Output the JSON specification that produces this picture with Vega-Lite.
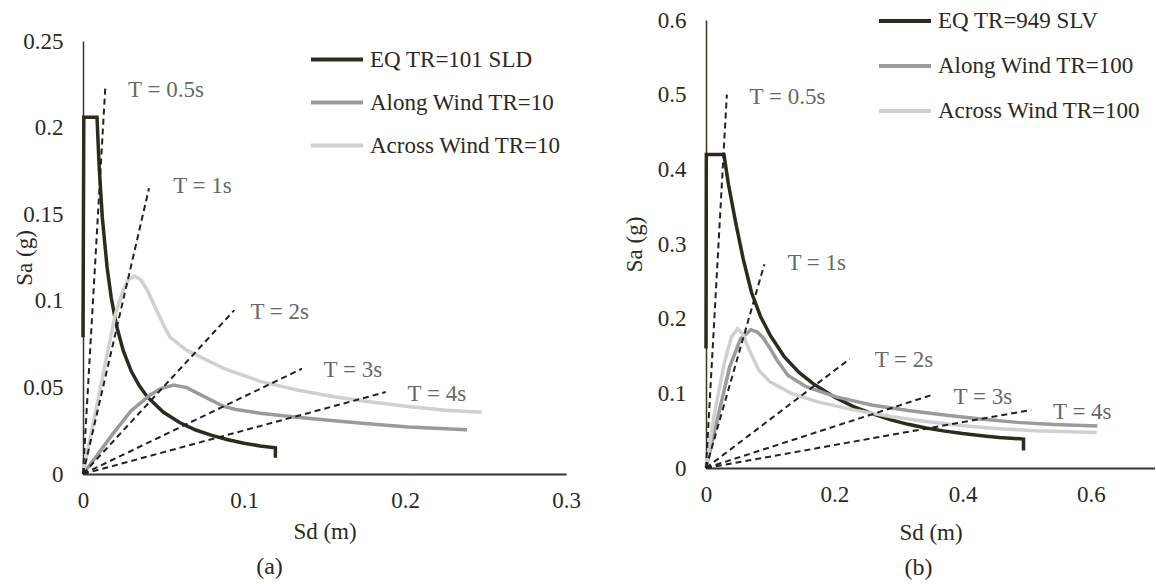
{
  "$schema": "https://vega.github.io/schema/vega-lite/v6.json",
  "padding": {"left": 13, "top": -7, "right": 0, "bottom": 0},
  "background": "white",
  "config": {
    "font": "Liberation Serif",
    "view": {"stroke": null},
    "style": {"guide-label": {"font": "Liberation Serif"}, "guide-title": {"font": "Liberation Serif"}},
    "axis": {
      "grid": false, "ticks": false, "labelFlush": false,
      "labelFont": "Liberation Serif", "labelFontSize": 23, "labelColor": "#2b2a22",
      "titleFont": "Liberation Serif", "titleFontSize": 23, "titleFontWeight": "normal", "titleColor": "#2b2a22",
      "domainColor": "#3a3528", "format": "~g"
    },
    "legend": {
      "orient": "none", "title": null, "symbolType": "stroke", "symbolSize": 2704, "symbolStrokeWidth": 4,
      "labelFont": "Liberation Serif", "labelFontSize": 23, "labelColor": "#2b2a22", "labelLimit": 400,
      "labelOffset": 5, "padding": 0
    },
    "title": {"font": "Liberation Serif", "fontWeight": "normal", "color": "#2b2a22"}
  },
  "datasets": {
    "curvesA": [
      {"s": "EQ TR=101 SLD", "Sd": 0, "Sa": 0.079},
      {"s": "EQ TR=101 SLD", "Sd": 0.0005, "Sa": 0.206},
      {"s": "EQ TR=101 SLD", "Sd": 0.0087, "Sa": 0.206},
      {"s": "EQ TR=101 SLD", "Sd": 0.010, "Sa": 0.178},
      {"s": "EQ TR=101 SLD", "Sd": 0.012, "Sa": 0.148},
      {"s": "EQ TR=101 SLD", "Sd": 0.015, "Sa": 0.119},
      {"s": "EQ TR=101 SLD", "Sd": 0.0175, "Sa": 0.102},
      {"s": "EQ TR=101 SLD", "Sd": 0.0207, "Sa": 0.086},
      {"s": "EQ TR=101 SLD", "Sd": 0.025, "Sa": 0.0712},
      {"s": "EQ TR=101 SLD", "Sd": 0.03, "Sa": 0.0593},
      {"s": "EQ TR=101 SLD", "Sd": 0.035, "Sa": 0.0509},
      {"s": "EQ TR=101 SLD", "Sd": 0.04, "Sa": 0.0445},
      {"s": "EQ TR=101 SLD", "Sd": 0.05, "Sa": 0.0356},
      {"s": "EQ TR=101 SLD", "Sd": 0.06, "Sa": 0.0297},
      {"s": "EQ TR=101 SLD", "Sd": 0.07, "Sa": 0.0254},
      {"s": "EQ TR=101 SLD", "Sd": 0.08, "Sa": 0.0223},
      {"s": "EQ TR=101 SLD", "Sd": 0.09, "Sa": 0.0198},
      {"s": "EQ TR=101 SLD", "Sd": 0.1, "Sa": 0.0178},
      {"s": "EQ TR=101 SLD", "Sd": 0.11, "Sa": 0.0162},
      {"s": "EQ TR=101 SLD", "Sd": 0.1195, "Sa": 0.0151},
      {"s": "EQ TR=101 SLD", "Sd": 0.1195, "Sa": 0.0094},
      {"s": "Along Wind TR=10", "Sd": 0, "Sa": 0},
      {"s": "Along Wind TR=10", "Sd": 0.0092, "Sa": 0.0113},
      {"s": "Along Wind TR=10", "Sd": 0.0184, "Sa": 0.023},
      {"s": "Along Wind TR=10", "Sd": 0.0299, "Sa": 0.0366},
      {"s": "Along Wind TR=10", "Sd": 0.0414, "Sa": 0.0454},
      {"s": "Along Wind TR=10", "Sd": 0.0483, "Sa": 0.0493},
      {"s": "Along Wind TR=10", "Sd": 0.0563, "Sa": 0.0513},
      {"s": "Along Wind TR=10", "Sd": 0.0644, "Sa": 0.0499},
      {"s": "Along Wind TR=10", "Sd": 0.0759, "Sa": 0.0444},
      {"s": "Along Wind TR=10", "Sd": 0.0874, "Sa": 0.039},
      {"s": "Along Wind TR=10", "Sd": 0.095, "Sa": 0.0372},
      {"s": "Along Wind TR=10", "Sd": 0.110, "Sa": 0.0351},
      {"s": "Along Wind TR=10", "Sd": 0.133, "Sa": 0.0327},
      {"s": "Along Wind TR=10", "Sd": 0.156, "Sa": 0.0308},
      {"s": "Along Wind TR=10", "Sd": 0.179, "Sa": 0.0289},
      {"s": "Along Wind TR=10", "Sd": 0.202, "Sa": 0.0271},
      {"s": "Along Wind TR=10", "Sd": 0.2386, "Sa": 0.0255},
      {"s": "Across Wind TR=10", "Sd": 0, "Sa": 0},
      {"s": "Across Wind TR=10", "Sd": 0.01, "Sa": 0.046},
      {"s": "Across Wind TR=10", "Sd": 0.02, "Sa": 0.092},
      {"s": "Across Wind TR=10", "Sd": 0.0245, "Sa": 0.105},
      {"s": "Across Wind TR=10", "Sd": 0.028, "Sa": 0.112},
      {"s": "Across Wind TR=10", "Sd": 0.032, "Sa": 0.1143},
      {"s": "Across Wind TR=10", "Sd": 0.036, "Sa": 0.112},
      {"s": "Across Wind TR=10", "Sd": 0.04, "Sa": 0.106},
      {"s": "Across Wind TR=10", "Sd": 0.045, "Sa": 0.096},
      {"s": "Across Wind TR=10", "Sd": 0.05, "Sa": 0.086},
      {"s": "Across Wind TR=10", "Sd": 0.054, "Sa": 0.079},
      {"s": "Across Wind TR=10", "Sd": 0.06, "Sa": 0.0745},
      {"s": "Across Wind TR=10", "Sd": 0.0644, "Sa": 0.0715},
      {"s": "Across Wind TR=10", "Sd": 0.0874, "Sa": 0.061},
      {"s": "Across Wind TR=10", "Sd": 0.110, "Sa": 0.0535},
      {"s": "Across Wind TR=10", "Sd": 0.133, "Sa": 0.0485},
      {"s": "Across Wind TR=10", "Sd": 0.156, "Sa": 0.0446},
      {"s": "Across Wind TR=10", "Sd": 0.179, "Sa": 0.0416},
      {"s": "Across Wind TR=10", "Sd": 0.202, "Sa": 0.039},
      {"s": "Across Wind TR=10", "Sd": 0.225, "Sa": 0.0368},
      {"s": "Across Wind TR=10", "Sd": 0.2476, "Sa": 0.0357}
    ],
    "periodsA": [
      {"T": "0.5", "Sd": 0, "Sa": 0}, {"T": "0.5", "Sd": 0.0139, "Sa": 0.224},
      {"T": "1", "Sd": 0, "Sa": 0}, {"T": "1", "Sd": 0.041, "Sa": 0.165},
      {"T": "2", "Sd": 0, "Sa": 0}, {"T": "2", "Sd": 0.094, "Sa": 0.0946},
      {"T": "3", "Sd": 0, "Sa": 0}, {"T": "3", "Sd": 0.136, "Sa": 0.0608},
      {"T": "4", "Sd": 0, "Sa": 0}, {"T": "4", "Sd": 0.188, "Sa": 0.0473}
    ],
    "labelsA": [
      {"label": "T = 0.5s", "Sd": 0.028, "Sa": 0.2217},
      {"label": "T = 1s", "Sd": 0.056, "Sa": 0.166},
      {"label": "T = 2s", "Sd": 0.104, "Sa": 0.0936},
      {"label": "T = 3s", "Sd": 0.1494, "Sa": 0.060},
      {"label": "T = 4s", "Sd": 0.2016, "Sa": 0.0464}
    ],
    "curvesB": [
      {"s": "EQ TR=949 SLV", "Sd": 0, "Sa": 0.16},
      {"s": "EQ TR=949 SLV", "Sd": 0.0005, "Sa": 0.42},
      {"s": "EQ TR=949 SLV", "Sd": 0.028, "Sa": 0.42},
      {"s": "EQ TR=949 SLV", "Sd": 0.035, "Sa": 0.38},
      {"s": "EQ TR=949 SLV", "Sd": 0.046, "Sa": 0.33},
      {"s": "EQ TR=949 SLV", "Sd": 0.058, "Sa": 0.28},
      {"s": "EQ TR=949 SLV", "Sd": 0.071, "Sa": 0.235},
      {"s": "EQ TR=949 SLV", "Sd": 0.085, "Sa": 0.203},
      {"s": "EQ TR=949 SLV", "Sd": 0.1, "Sa": 0.178},
      {"s": "EQ TR=949 SLV", "Sd": 0.122, "Sa": 0.149},
      {"s": "EQ TR=949 SLV", "Sd": 0.145, "Sa": 0.128},
      {"s": "EQ TR=949 SLV", "Sd": 0.167, "Sa": 0.113},
      {"s": "EQ TR=949 SLV", "Sd": 0.2, "Sa": 0.095},
      {"s": "EQ TR=949 SLV", "Sd": 0.23, "Sa": 0.0822},
      {"s": "EQ TR=949 SLV", "Sd": 0.26, "Sa": 0.0725},
      {"s": "EQ TR=949 SLV", "Sd": 0.287, "Sa": 0.0648},
      {"s": "EQ TR=949 SLV", "Sd": 0.315, "Sa": 0.0585},
      {"s": "EQ TR=949 SLV", "Sd": 0.343, "Sa": 0.0535},
      {"s": "EQ TR=949 SLV", "Sd": 0.37, "Sa": 0.0497},
      {"s": "EQ TR=949 SLV", "Sd": 0.4, "Sa": 0.0461},
      {"s": "EQ TR=949 SLV", "Sd": 0.43, "Sa": 0.0432},
      {"s": "EQ TR=949 SLV", "Sd": 0.457, "Sa": 0.041},
      {"s": "EQ TR=949 SLV", "Sd": 0.495, "Sa": 0.0387},
      {"s": "EQ TR=949 SLV", "Sd": 0.495, "Sa": 0.0236},
      {"s": "Along Wind TR=100", "Sd": 0, "Sa": 0},
      {"s": "Along Wind TR=100", "Sd": 0.0199, "Sa": 0.0733},
      {"s": "Along Wind TR=100", "Sd": 0.0369, "Sa": 0.1356},
      {"s": "Along Wind TR=100", "Sd": 0.0539, "Sa": 0.173},
      {"s": "Along Wind TR=100", "Sd": 0.0698, "Sa": 0.1853},
      {"s": "Along Wind TR=100", "Sd": 0.08, "Sa": 0.182},
      {"s": "Along Wind TR=100", "Sd": 0.088, "Sa": 0.1756},
      {"s": "Along Wind TR=100", "Sd": 0.1, "Sa": 0.16},
      {"s": "Along Wind TR=100", "Sd": 0.111, "Sa": 0.144},
      {"s": "Along Wind TR=100", "Sd": 0.128, "Sa": 0.124},
      {"s": "Along Wind TR=100", "Sd": 0.156, "Sa": 0.109},
      {"s": "Along Wind TR=100", "Sd": 0.2015, "Sa": 0.0956},
      {"s": "Along Wind TR=100", "Sd": 0.258, "Sa": 0.0844},
      {"s": "Along Wind TR=100", "Sd": 0.315, "Sa": 0.0769},
      {"s": "Along Wind TR=100", "Sd": 0.372, "Sa": 0.0711},
      {"s": "Along Wind TR=100", "Sd": 0.428, "Sa": 0.0655},
      {"s": "Along Wind TR=100", "Sd": 0.485, "Sa": 0.0611},
      {"s": "Along Wind TR=100", "Sd": 0.542, "Sa": 0.0582},
      {"s": "Along Wind TR=100", "Sd": 0.61, "Sa": 0.0562},
      {"s": "Across Wind TR=100", "Sd": 0, "Sa": 0},
      {"s": "Across Wind TR=100", "Sd": 0.0114, "Sa": 0.0644},
      {"s": "Across Wind TR=100", "Sd": 0.0284, "Sa": 0.14},
      {"s": "Across Wind TR=100", "Sd": 0.0397, "Sa": 0.1756},
      {"s": "Across Wind TR=100", "Sd": 0.0494, "Sa": 0.1867},
      {"s": "Across Wind TR=100", "Sd": 0.057, "Sa": 0.18},
      {"s": "Across Wind TR=100", "Sd": 0.0653, "Sa": 0.162},
      {"s": "Across Wind TR=100", "Sd": 0.0823, "Sa": 0.131},
      {"s": "Across Wind TR=100", "Sd": 0.0993, "Sa": 0.1156},
      {"s": "Across Wind TR=100", "Sd": 0.133, "Sa": 0.1},
      {"s": "Across Wind TR=100", "Sd": 0.173, "Sa": 0.0889},
      {"s": "Across Wind TR=100", "Sd": 0.23, "Sa": 0.0778},
      {"s": "Across Wind TR=100", "Sd": 0.287, "Sa": 0.0689},
      {"s": "Across Wind TR=100", "Sd": 0.343, "Sa": 0.0622},
      {"s": "Across Wind TR=100", "Sd": 0.40, "Sa": 0.0566},
      {"s": "Across Wind TR=100", "Sd": 0.457, "Sa": 0.0526},
      {"s": "Across Wind TR=100", "Sd": 0.514, "Sa": 0.05},
      {"s": "Across Wind TR=100", "Sd": 0.609, "Sa": 0.0476}
    ],
    "periodsB": [
      {"T": "0.5", "Sd": 0, "Sa": 0}, {"T": "0.5", "Sd": 0.0325, "Sa": 0.50},
      {"T": "1", "Sd": 0, "Sa": 0}, {"T": "1", "Sd": 0.091, "Sa": 0.273},
      {"T": "2", "Sd": 0, "Sa": 0}, {"T": "2", "Sd": 0.224, "Sa": 0.146},
      {"T": "3", "Sd": 0, "Sa": 0}, {"T": "3", "Sd": 0.352, "Sa": 0.0978},
      {"T": "4", "Sd": 0, "Sa": 0}, {"T": "4", "Sd": 0.507, "Sa": 0.0778}
    ],
    "labelsB": [
      {"label": "T = 0.5s", "Sd": 0.068, "Sa": 0.497},
      {"label": "T = 1s", "Sd": 0.127, "Sa": 0.274},
      {"label": "T = 2s", "Sd": 0.263, "Sa": 0.144},
      {"label": "T = 3s", "Sd": 0.386, "Sa": 0.0956},
      {"label": "T = 4s", "Sd": 0.541, "Sa": 0.0756}
    ]
  },
  "hconcat": [
    {
      "spacing": 0,
      "vconcat": [
        {"width": 10, "height": 10, "data": {"values": [{}]}, "mark": {"type": "point", "opacity": 0, "size": 1}},
        {
          "width": 483, "height": 433,
          "title": {"text": "(a)", "orient": "bottom", "anchor": "middle", "dx": -55, "offset": 12, "fontSize": 24, "font": "Liberation Serif"},
          "layer": [
            {
              "data": {"name": "curvesA"},
              "mark": {"type": "line", "strokeWidth": 3.5},
              "encoding": {
                "x": {"field": "Sd", "type": "quantitative", "scale": {"domain": [0, 0.3], "nice": false},
                      "axis": {"title": "Sd (m)", "values": [0, 0.1, 0.2, 0.3], "domainWidth": 2, "labelPadding": 15, "titleY": 57, "titleBaseline": "middle",
                               "labelFont": "Liberation Serif", "titleFont": "Liberation Serif", "labelFontSize": 23, "titleFontSize": 23}},
                "y": {"field": "Sa", "type": "quantitative", "scale": {"domain": [0, 0.25], "nice": false},
                      "axis": {"title": "Sa (g)", "values": [0, 0.05, 0.1, 0.15, 0.2, 0.25], "domainWidth": 1.5, "labelPadding": 20, "titleX": -59, "titleBaseline": "middle",
                               "labelFont": "Liberation Serif", "titleFont": "Liberation Serif", "labelFontSize": 23, "titleFontSize": 23}},
                "color": {"field": "s", "type": "nominal",
                          "scale": {"domain": ["EQ TR=101 SLD", "Along Wind TR=10", "Across Wind TR=10"], "range": ["#2d2a20", "#9b9b9b", "#d0d0d0"]},
                          "legend": {"legendX": 226, "legendY": 11.5, "rowPadding": 3}},
                "order": {"value": null}
              }
            },
            {
              "data": {"name": "periodsA"},
              "mark": {"type": "line", "strokeWidth": 2, "strokeDash": [6, 4], "color": "#222222"},
              "encoding": {
                "x": {"field": "Sd", "type": "quantitative", "scale": {"domain": [0, 0.3], "nice": false}},
                "y": {"field": "Sa", "type": "quantitative", "scale": {"domain": [0, 0.25], "nice": false}},
                "detail": {"field": "T", "type": "nominal"},
                "order": {"value": null}
              }
            },
            {
              "data": {"name": "labelsA"},
              "mark": {"type": "text", "align": "left", "baseline": "middle", "fontSize": 23, "font": "Liberation Serif", "color": "#686868"},
              "encoding": {
                "x": {"field": "Sd", "type": "quantitative", "scale": {"domain": [0, 0.3], "nice": false}},
                "y": {"field": "Sa", "type": "quantitative", "scale": {"domain": [0, 0.25], "nice": false}},
                "text": {"field": "label"}
              }
            }
          ]
        }
      ]
    },
    {
      "width": 449, "height": 448,
      "title": {"text": "(b)", "orient": "bottom", "anchor": "middle", "dx": -12, "offset": 12, "fontSize": 24, "font": "Liberation Serif"},
      "layer": [
        {
          "data": {"name": "curvesB"},
          "mark": {"type": "line", "strokeWidth": 3.5},
          "encoding": {
            "x": {"field": "Sd", "type": "quantitative", "scale": {"domain": [0, 0.7], "nice": false},
                  "axis": {"title": "Sd (m)", "values": [0, 0.2, 0.4, 0.6], "domainWidth": 2, "labelPadding": 15, "titleY": 64, "titleBaseline": "middle",
                           "labelFont": "Liberation Serif", "titleFont": "Liberation Serif", "labelFontSize": 23, "titleFontSize": 23}},
            "y": {"field": "Sa", "type": "quantitative", "scale": {"domain": [0, 0.6], "nice": false},
                  "axis": {"title": "Sa (g)", "values": [0, 0.1, 0.2, 0.3, 0.4, 0.5, 0.6], "domainWidth": 1.5, "labelPadding": 20, "titleX": -72, "titleBaseline": "middle",
                           "labelFont": "Liberation Serif", "titleFont": "Liberation Serif", "labelFontSize": 23, "titleFontSize": 23}},
            "color": {"field": "s", "type": "nominal",
                      "scale": {"domain": ["EQ TR=949 SLV", "Along Wind TR=100", "Across Wind TR=100"], "range": ["#2d2a20", "#9b9b9b", "#d0d0d0"]},
                      "legend": {"legendX": 171, "legendY": -27, "rowPadding": 5}},
            "order": {"value": null}
          }
        },
        {
          "data": {"name": "periodsB"},
          "mark": {"type": "line", "strokeWidth": 2, "strokeDash": [6, 4], "color": "#222222"},
          "encoding": {
            "x": {"field": "Sd", "type": "quantitative", "scale": {"domain": [0, 0.7], "nice": false}},
            "y": {"field": "Sa", "type": "quantitative", "scale": {"domain": [0, 0.6], "nice": false}},
            "detail": {"field": "T", "type": "nominal"},
            "order": {"value": null}
          }
        },
        {
          "data": {"name": "labelsB"},
          "mark": {"type": "text", "align": "left", "baseline": "middle", "fontSize": 23, "font": "Liberation Serif", "color": "#686868"},
          "encoding": {
            "x": {"field": "Sd", "type": "quantitative", "scale": {"domain": [0, 0.7], "nice": false}},
            "y": {"field": "Sa", "type": "quantitative", "scale": {"domain": [0, 0.6], "nice": false}},
            "text": {"field": "label"}
          }
        }
      ]
    }
  ],
  "spacing": 42,
  "resolve": {"scale": {"color": "independent"}, "legend": {"color": "independent"}}
}
